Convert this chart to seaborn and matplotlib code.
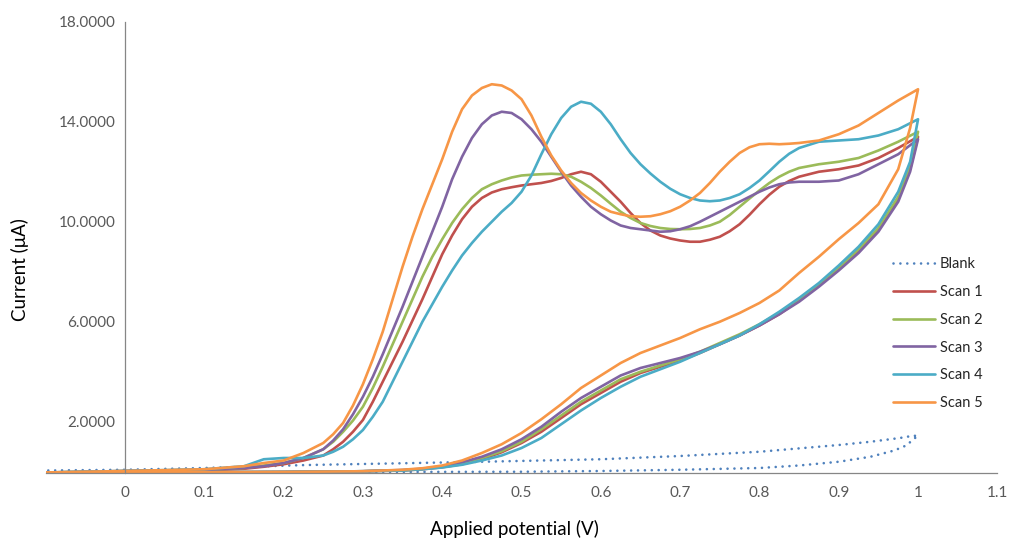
import matplotlib
matplotlib.use("Agg")
import matplotlib.pyplot as plt
import numpy as np
import pandas as pd
import seaborn as sns

# ---------------- data ----------------
series_names = ["Blank", "Scan 1", "Scan 2", "Scan 3", "Scan 4", "Scan 5"]
series_colors = ["#4F81BD", "#C0504D", "#9BBB59", "#8064A2", "#4BACC6", "#F79646"]

# forward (anodic) sweep potentials, V
forward_potential = [-0.1, 0.0, 0.1, 0.15, 0.175, 0.2, 0.225,
                     0.25, 0.2625, 0.275, 0.2875, 0.3, 0.3125, 0.325, 0.3375, 0.35, 0.3625,
                     0.375, 0.3875, 0.4,
                     0.4125, 0.425, 0.4375, 0.45, 0.4625, 0.475, 0.4875, 0.5, 0.5125, 0.525,
                     0.5375, 0.55, 0.5625, 0.575, 0.5875, 0.6,
                     0.6125, 0.625, 0.6375, 0.65, 0.6625, 0.675, 0.6875, 0.7, 0.7125, 0.725,
                     0.7375, 0.75, 0.7625, 0.775, 0.7875, 0.8, 0.8125, 0.825, 0.8375, 0.85,
                     0.875, 0.9, 0.925, 0.95, 0.975, 1.0]
# reverse sweep potentials, V
reverse_potential = [0.99, 0.975, 0.95, 0.925, 0.9, 0.875, 0.85, 0.825, 0.8, 0.775,
                     0.75, 0.725, 0.7, 0.675, 0.65, 0.625, 0.6, 0.575, 0.55, 0.525,
                     0.5, 0.475, 0.45, 0.425, 0.4, 0.375, 0.35, 0.3, 0.2, 0.1, 0.0, -0.1]

scan1_forward = [-0.05, 0.02, 0.06, 0.12, 0.2, 0.3, 0.45,
                 0.65, 0.9, 1.2, 1.6, 2.07, 2.8, 3.6, 4.4, 5.2, 6.05, 6.9, 7.8, 8.7,
                 9.45, 10.1, 10.6, 10.95, 11.17, 11.3, 11.38, 11.45, 11.5, 11.55, 11.63, 11.75,
                 11.9, 12.0, 11.9, 11.6,
                 11.2, 10.8, 10.35, 9.95, 9.65, 9.45, 9.33, 9.25, 9.2, 9.2, 9.28, 9.4, 9.62, 9.9,
                 10.28, 10.7, 11.08, 11.4, 11.63, 11.8,
                 12.0, 12.1, 12.25, 12.55, 12.95, 13.4]
scan1_reverse = [12.1, 10.9, 9.7, 8.85, 8.1, 7.45, 6.85, 6.3, 5.85, 5.45,
                 5.1, 4.75, 4.45, 4.2, 3.95, 3.6, 3.15, 2.7, 2.15, 1.6,
                 1.15, 0.78, 0.5, 0.3, 0.18, 0.1, 0.05, 0.02, -0.01, -0.02, -0.03, -0.05]

scan2_forward = [-0.03, 0.03, 0.08, 0.15, 0.25, 0.35, 0.55,
                 0.9, 1.2, 1.6, 2.05, 2.6, 3.35, 4.2, 5.1, 6.0, 6.9, 7.8, 8.6, 9.3,
                 9.95, 10.5, 10.95, 11.3, 11.5, 11.65, 11.77, 11.85, 11.88, 11.9, 11.92, 11.9,
                 11.8, 11.6, 11.35, 11.05,
                 10.72, 10.4, 10.15, 9.95, 9.83, 9.75, 9.71, 9.7, 9.71, 9.75, 9.85, 10.0, 10.27, 10.6,
                 10.93, 11.25, 11.55, 11.8, 12.0, 12.15,
                 12.3, 12.4, 12.55, 12.85, 13.2, 13.6]
scan2_reverse = [12.2, 11.0, 9.75, 8.9, 8.15, 7.5, 6.9, 6.35, 5.9, 5.5,
                 5.15, 4.8, 4.5, 4.25, 4.0, 3.7, 3.25, 2.8, 2.25, 1.7,
                 1.2, 0.82, 0.55, 0.34, 0.2, 0.11, 0.06, 0.02, -0.01, -0.02, -0.03, -0.03]

scan3_forward = [-0.03, 0.03, 0.08, 0.15, 0.22, 0.35, 0.55,
                 0.9, 1.25, 1.7, 2.3, 3.0, 3.8, 4.7, 5.65, 6.6, 7.6, 8.6, 9.6, 10.6,
                 11.7, 12.6, 13.35, 13.9, 14.25, 14.4, 14.35, 14.1, 13.7, 13.2, 12.6, 12.0,
                 11.45, 11.0, 10.6, 10.3,
                 10.05, 9.85, 9.75, 9.7, 9.65, 9.6, 9.62, 9.7, 9.82, 10.0, 10.2, 10.4, 10.6, 10.8,
                 11.0, 11.2, 11.37, 11.5, 11.57, 11.6,
                 11.6, 11.65, 11.9, 12.3, 12.7, 13.3]
scan3_reverse = [12.0, 10.8, 9.6, 8.75, 8.05, 7.4, 6.8, 6.3, 5.85, 5.45,
                 5.1, 4.8, 4.55, 4.35, 4.15, 3.85, 3.4, 2.95, 2.4, 1.8,
                 1.3, 0.9, 0.6, 0.38, 0.22, 0.12, 0.07, 0.02, -0.01, -0.02, -0.03, -0.04]

scan4_forward = [-0.03, 0.03, 0.1, 0.22, 0.5, 0.55, 0.55,
                 0.65, 0.8, 1.0, 1.3, 1.67, 2.2, 2.8, 3.6, 4.4, 5.2, 6.0, 6.7, 7.4,
                 8.05, 8.65, 9.15, 9.6, 10.0, 10.4, 10.75, 11.2, 11.85, 12.7, 13.5, 14.15,
                 14.6, 14.8, 14.72, 14.4,
                 13.9, 13.3, 12.75, 12.3, 11.93, 11.6, 11.32, 11.1, 10.95, 10.85, 10.82, 10.85, 10.95, 11.1,
                 11.35, 11.65, 12.02, 12.4, 12.72, 12.95,
                 13.2, 13.25, 13.3, 13.45, 13.7, 14.1]
scan4_reverse = [12.4, 11.2, 9.9, 9.0, 8.25, 7.55, 6.95, 6.4, 5.9, 5.45,
                 5.1, 4.75, 4.4, 4.1, 3.8, 3.4, 2.95, 2.45, 1.9, 1.35,
                 0.95, 0.65, 0.45, 0.28, 0.17, 0.1, 0.05, 0.02, -0.01, -0.02, -0.03, -0.04]

scan5_forward = [-0.03, 0.03, 0.1, 0.22, 0.35, 0.45, 0.75,
                 1.15, 1.5, 1.95, 2.65, 3.5, 4.5, 5.6, 6.9, 8.2, 9.4, 10.5, 11.5, 12.5,
                 13.6, 14.5, 15.05, 15.35, 15.5, 15.45, 15.25, 14.9, 14.25, 13.4, 12.65, 12.05,
                 11.55, 11.15, 10.85, 10.6,
                 10.4, 10.3, 10.22, 10.2, 10.22, 10.3, 10.42, 10.6, 10.85, 11.15, 11.55, 12.0, 12.4, 12.75,
                 12.98, 13.1, 13.12, 13.1, 13.12, 13.15,
                 13.25, 13.5, 13.85, 14.35, 14.85, 15.3]
scan5_reverse = [13.75, 12.1, 10.7, 9.95, 9.3, 8.6, 7.95, 7.25, 6.75, 6.35,
                 6.0, 5.7, 5.35, 5.05, 4.75, 4.35, 3.85, 3.35, 2.7, 2.1,
                 1.55, 1.1, 0.75, 0.45, 0.25, 0.14, 0.08, 0.02, -0.01, -0.02, -0.03, -0.04]

blank_forward_potential = [-0.1, 0.1, 0.3, 0.5, 0.6, 0.7, 0.8, 0.85, 0.9, 0.94, 0.97, 0.985, 1.0]
blank_forward = [-0.02, -0.02, -0.01, 0.0, 0.03, 0.08, 0.15, 0.25, 0.4, 0.6, 0.85, 1.05, 1.45]
blank_reverse_potential = [0.99, 0.977, 0.94, 0.9, 0.8, 0.7, 0.6, 0.45, 0.35, 0.23, 0.1, 0.0, -0.1]
blank_reverse = [1.42, 1.35, 1.2, 1.07, 0.8, 0.63, 0.5, 0.4, 0.34, 0.27, 0.15, 0.08, 0.05]

x_ticks = [0, 0.1, 0.2, 0.3, 0.4, 0.5, 0.6, 0.7, 0.8, 0.9, 1.0, 1.1]
x_tick_labels = ["0", "0.1", "0.2", "0.3", "0.4", "0.5", "0.6", "0.7", "0.8", "0.9", "1", "1.1"]
y_ticks = [2, 6, 10, 14, 18]
y_tick_labels = ["2.0000", "6.0000", "10.0000", "14.0000", "18.0000"]

# ---------------- build long-form table ----------------
scans_fwd = [scan1_forward, scan2_forward, scan3_forward, scan4_forward, scan5_forward]
scans_rev = [scan1_reverse, scan2_reverse, scan3_reverse, scan4_reverse, scan5_reverse]
frames = [pd.DataFrame({
    "potential": blank_forward_potential + blank_reverse_potential,
    "current": blank_forward + blank_reverse,
    "series": "Blank"})]
for name, f, r in zip(series_names[1:], scans_fwd, scans_rev):
    assert len(f) == len(forward_potential), (name, len(f))
    assert len(r) == len(reverse_potential), (name, len(r))
    frames.append(pd.DataFrame({
        "potential": forward_potential + reverse_potential,
        "current": f + r,
        "series": name}))
df = pd.concat(frames, ignore_index=True)

# ---------------- plot ----------------
sns.set_style("white")
plt.rcParams["font.family"] = ["Lato", "DejaVu Sans"]

fig = plt.figure(figsize=(10.11, 5.42), dpi=100)
ax = fig.add_axes([0.0452, 0.1273, 0.9413, 0.8326])

for name, color in zip(series_names, series_colors):
    sub = df[df["series"] == name]
    if name == "Blank":
        sns.lineplot(data=sub, x="potential", y="current", ax=ax, sort=False,
                     estimator=None, color=color, linewidth=1.9, label=name,
                     linestyle=(0, (0.01, 2.6)), dash_capstyle="round")
    else:
        sns.lineplot(data=sub, x="potential", y="current", ax=ax, sort=False,
                     estimator=None, color=color, linewidth=1.9, label=name,
                     solid_joinstyle="round", solid_capstyle="round")

ax.set_xlim(-0.1, 1.1)
ax.set_ylim(-0.05, 18)
ax.set_xticks(x_ticks)
ax.set_xticklabels(x_tick_labels)
ax.set_yticks(y_ticks)
ax.set_yticklabels(y_tick_labels)

for s in ["top", "right"]:
    ax.spines[s].set_visible(False)
ax.spines["left"].set_position(("data", 0))
for s in ["left", "bottom"]:
    ax.spines[s].set_color("#868686")
    ax.spines[s].set_linewidth(0.9)

ax.tick_params(axis="both", direction="inout", length=6, width=0.9,
               color="#868686", labelcolor="#595959", labelsize=11)
ax.tick_params(axis="x", pad=6)
ax.tick_params(axis="y", pad=4)

ax.set_xlabel("Applied potential (V)", fontsize=13.5, color="black")
ax.set_ylabel("Current (μA)", fontsize=13.5, color="black")
ax.xaxis.set_label_coords(0.493, -0.105)
ax.yaxis.set_label_coords(-0.018, 0.45)

leg = ax.legend(loc="upper left", bbox_to_anchor=(0.8833, 0.5258),
                bbox_transform=fig.transFigure, frameon=False, fontsize=10.5,
                handlelength=2.9, handletextpad=0.3, labelspacing=0.95,
                borderpad=0, borderaxespad=0)
for t in leg.get_texts():
    t.set_color("#262626")

fig.savefig("out.png", dpi=100, facecolor="white")
